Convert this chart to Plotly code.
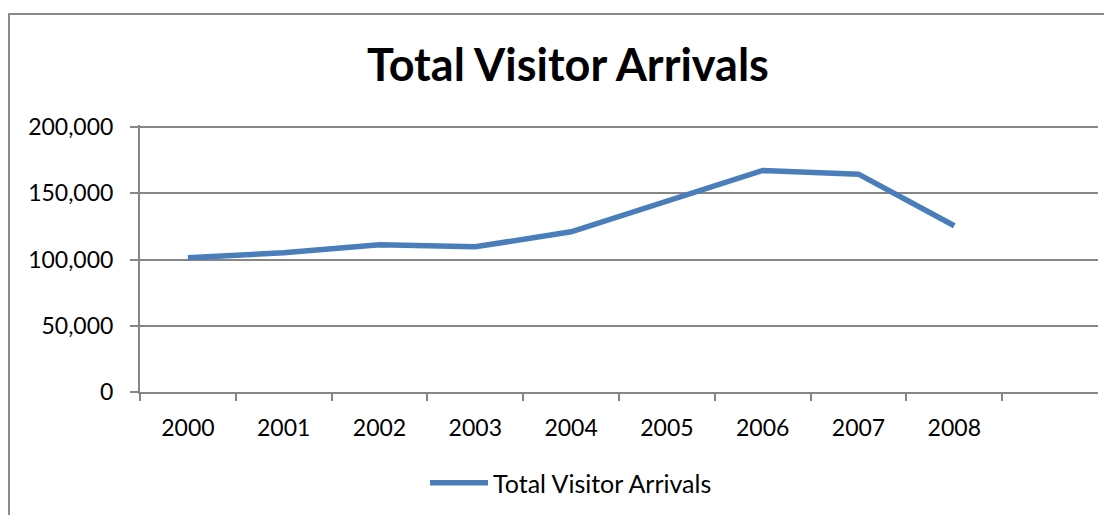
import plotly.graph_objects as go

years = ["2000", "2001", "2002", "2003", "2004", "2005", "2006", "2007", "2008"]
arrivals = [101400, 105100, 111100, 109600, 120900, 143800, 167200, 164400, 125500]
series_name = "Total Visitor Arrivals"
chart_title = "Total Visitor Arrivals"
y_ticks = [0, 50000, 100000, 150000, 200000]

OFF = 8  # page body margin offset
W, H = 1112 - OFF, 515 - OFF
PL, PR, PT, PB = 140, 1098, 125, 392  # plot area in screen px
Y200 = 127  # screen y of the 200,000 gridline (kept below the top edge so it is drawn)
y_top = 200000 * (PB - PT) / (PB - Y200)
L, R, T, B = PL - OFF, W - (PR - OFF), PT - OFF, H - (PB - OFF)
FONT = "Lato, 'Open Sans', sans-serif"
GRID = "#868686"

fig = go.Figure()
fig.add_trace(go.Scatter(
    x=years, y=arrivals, mode="lines", name=series_name,
    line=dict(color="#4a7ebb", width=5.5),
    showlegend=True,
))

pw = W - L - R
ph = H - T - B

def px_x(p):
    return (p - PL) / pw

def px_y(p):
    return (PB - p) / ph

def cont_y(p):
    return 1 - (p - OFF) / H

fig.add_shape(type="rect", xref="paper", yref="paper",
              x0=px_x(9), x1=px_x(1130), y0=px_y(540), y1=px_y(14),
              line=dict(color="#8a8a8a", width=2), fillcolor="rgba(0,0,0,0)", layer="below")

fig.update_layout(
    width=W, height=H,
    margin=dict(l=L, r=R, t=T, b=B),
    paper_bgcolor="white", plot_bgcolor="white",
    font=dict(family=FONT, color="black", size=23),
    title=dict(text="<b>" + chart_title + "</b>", x=px_x(568), xref="paper",
               xanchor="center", y=cont_y(65.5), yref="container", yanchor="middle",
               font=dict(family=FONT, size=45, color="black")),
    showlegend=True,
    legend=dict(orientation="h", x=px_x(571), xanchor="center", xref="paper",
                y=cont_y(483), yref="container", yanchor="middle",
                font=dict(size=25, family=FONT),
                itemwidth=58, bgcolor="rgba(0,0,0,0)"),
    xaxis=dict(
        type="category", categoryorder="array", categoryarray=years,
        range=[-0.5, len(years) + 0.5],
        tickson="boundaries", ticks="outside", ticklen=7, tickcolor=GRID, tickwidth=2,
        showline=True, linecolor=GRID, linewidth=2, showgrid=False,
        tickfont=dict(size=23, family=FONT), ticklabelstandoff=14,
        zeroline=False,
    ),
    yaxis=dict(
        range=[0, y_top], tickvals=y_ticks, tickformat=",",
        ticks="outside", ticklen=8, tickcolor=GRID, tickwidth=2,
        showline=True, linecolor=GRID, linewidth=2,
        showgrid=True, gridcolor=GRID, gridwidth=2,
        zeroline=False, tickfont=dict(size=23, family=FONT),
        ticklabelstandoff=12,
    ),
)

fig.write_html("out.html")
